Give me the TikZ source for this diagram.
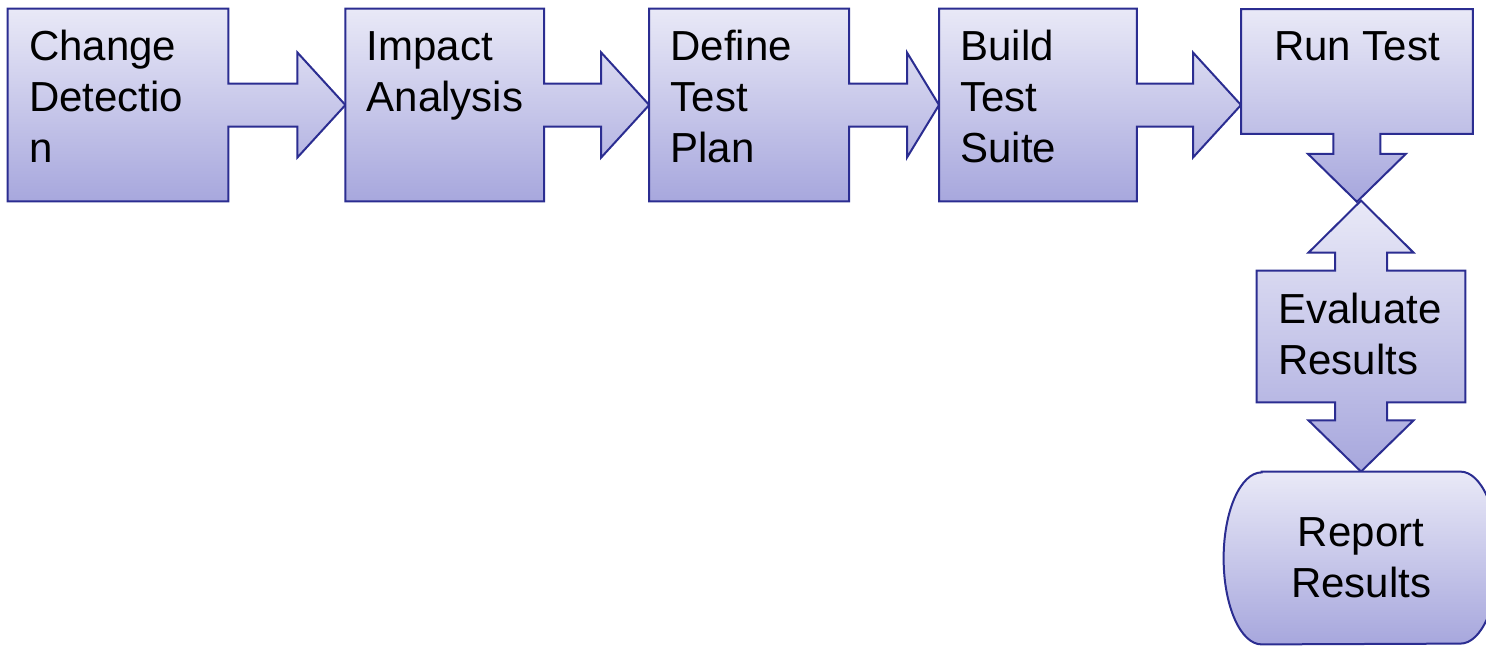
\documentclass[tikz,border=0pt]{standalone}
\usepackage{fontspec}
\setmainfont{Liberation Sans}
\usepackage{tikz}
\usetikzlibrary{positioning,calc}
\definecolor{boxTop}{RGB}{233,233,247}
\definecolor{boxBottom}{RGB}{167,167,221}
\definecolor{edgeNavy}{RGB}{43,45,145}

% box #1 with its arrow running into #2, head length #3
\newcommand{\arrowbox}[3]{%
  \draw[blockfill] (#1.north west) -- (#1.north east) -- ($(#1.east)+(0,10.75)$)
    -- ($(#2.west |- #1.east)+(-#3,10.75)$) -- ($(#2.west |- #1.east)+(-#3,26.25)$)
    -- (#2.west |- #1.east)
    -- ($(#2.west |- #1.east)+(-#3,-26.25)$) -- ($(#2.west |- #1.east)+(-#3,-10.75)$)
    -- ($(#1.east)+(0,-10.75)$) -- (#1.south east) -- (#1.south west) -- cycle;}

\begin{document}
\begin{tikzpicture}[x=1pt, y=1pt, line join=miter,
    stagebox/.style={rectangle, inner sep=0pt, minimum height=96pt},
    blockfill/.style={draw=edgeNavy, line width=1pt, top color=boxTop, bottom color=boxBottom},
    boxtext/.style={inner sep=0pt, font=\fontsize{21}{25.5}\selectfont}]
    \useasboundingbox (0,0) rectangle (743,322.5);

    \node [stagebox, minimum width=110pt] (chg) at (59,270) {};
    \node [stagebox, minimum width=99pt, right=58.5pt of chg] (impact) {};
    \node [stagebox, minimum width=99.5pt, right=52.5pt of impact] (plan) {};
    \node [stagebox, minimum width=98.5pt, right=45pt of plan] (suite) {};
    \node [stagebox, minimum width=115.5pt, minimum height=62pt, anchor=north west] (run) at (620.5,318) {};
    \node [stagebox, minimum width=104pt, minimum height=65.5pt] (eval) at (680.5,154.25) {};
    \node [stagebox, minimum width=137pt, minimum height=86pt] (report) at (680.5,43.5) {};
    \coordinate (runtip) at ($(run.south)+(0,-34)$);

    % the row of arrow boxes
    \arrowbox{chg}{impact}{24}
    \arrowbox{impact}{plan}{24}
    \arrowbox{plan}{suite}{16}
    \arrowbox{suite}{run}{24}

    % run test points down
    \draw [blockfill] (run.north west) -- (run.north east) -- (run.south east)
        -- ($(run.south)+(11.75,0)$) -- ($(run.south)+(11.75,-10)$) -- ($(run.south)+(24.5,-10)$)
        -- (runtip)
        -- ($(run.south)+(-24.5,-10)$) -- ($(run.south)+(-11.75,-10)$) -- ($(run.south)+(-11.75,0)$)
        -- (run.south west) -- cycle;

    % evaluate: arrows up and down
    \draw [blockfill] (eval.north west) -- ($(eval.north)+(-13,0)$) -- ($(eval.north)+(-13,9)$)
        -- ($(eval.north)+(-26.25,9)$) -- ($(eval.north)+(0,35)$) -- ($(eval.north)+(26.25,9)$)
        -- ($(eval.north)+(13,9)$) -- ($(eval.north)+(13,0)$) -- (eval.north east)
        -- (eval.south east) -- ($(eval.south)+(13,0)$) -- ($(eval.south)+(13,-9)$)
        -- ($(eval.south)+(26.25,-9)$) -- (report.north) -- ($(eval.south)+(-26.25,-9)$)
        -- ($(eval.south)+(-13,-9)$) -- ($(eval.south)+(-13,0)$) -- (eval.south west) -- cycle;

    % terminator
    \draw [blockfill] ($(report.north west)+(19,0)$) -- ($(report.north east)+(-19,0)$)
        arc [start angle=90, end angle=-90, x radius=19, y radius=43]
        -- ($(report.south west)+(19,0)$)
        arc [start angle=270, end angle=90, x radius=19, y radius=43] -- cycle;

    \node [boxtext, align=left, anchor=north west] (chg-txt) at ($(chg.north west)+(10.5,-7.65)$) {\strut Change\\Detectio\\n};
    \node [boxtext, align=left, anchor=north west] (impact-txt) at ($(impact.north west)+(10.5,-7.65)$) {\strut Impact\\Analysis};
    \node [boxtext, align=left, anchor=north west] (plan-txt) at ($(plan.north west)+(10.5,-7.65)$) {\strut Define\\Test\\Plan};
    \node [boxtext, align=left, anchor=north west] (suite-txt) at ($(suite.north west)+(10.5,-7.65)$) {\strut Build\\Test\\Suite};
    \node [boxtext, align=center, anchor=north] (run-txt) at ($(run.north)+(0,-7.65)$) {\strut Run Test};
    \node [boxtext, align=left, anchor=north west] (eval-txt) at ($(eval.north west)+(10.5,-8.15)$) {\strut Evaluate\\Results};
    \node [boxtext, align=center] (report-txt) at (report.center) {Report\\Results};
\end{tikzpicture}
\end{document}
